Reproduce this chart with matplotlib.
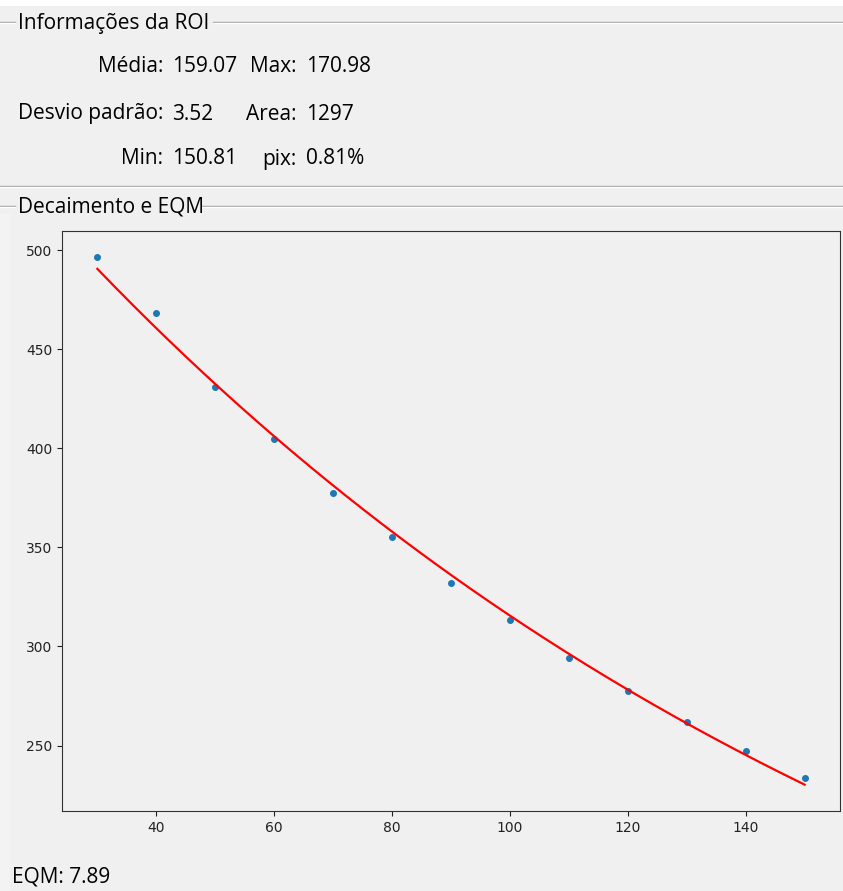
import numpy as np
import matplotlib
matplotlib.use("Agg")
import matplotlib.pyplot as plt
from matplotlib.lines import Line2D
from matplotlib.patches import Rectangle

# ROI statistics shown in the info panel
roi_labels = ["Média:", "Max:", "Desvio padrão:", "Area:", "Min:", "pix:"]
roi_values = ["159.07", "170.98", "3.52", "1297", "150.81", "0.81%"]

# decay samples (echo time vs. mean signal)
te = [30, 40, 50, 60, 70, 80, 90, 100, 110, 120, 130, 140, 150]
signal = [496.5, 468.4, 431.2, 404.6, 377.5, 355.4, 332.3, 313.3, 294.2,
          277.6, 262.0, 247.0, 233.4]
eqm = 7.89

W, H = 843, 891
BG = "#f0f0f0"
ui_font = ["Open Sans", "DejaVu Sans"]
UI_SIZE = 15

fig = plt.figure(figsize=(W / 100, H / 100), dpi=100)
fig.patch.set_facecolor(BG)


def fx(px):
    return px / W


def fy(py):
    return 1 - py / H


def hline(x0, x1, y, color="#a0a0a0"):
    fig.add_artist(Line2D([fx(x0), fx(x1)], [fy(y), fy(y)], color=color, lw=1))
    fig.add_artist(Line2D([fx(x0), fx(x1)], [fy(y + 1), fy(y + 1)], color="white", lw=1))


def groupbox(title, y, title_end):
    hline(0, 15, y)
    hline(title_end, W, y)
    fig.text(fx(18), fy(y + 1), title, fontsize=UI_SIZE, family=ui_font,
             va="center", ha="left", color="black")


# window strip above the panel and lighter margin beside the canvas
fig.add_artist(Rectangle((0, fy(6)), 1, 1 - fy(6), transform=fig.transFigure,
                         facecolor="white", edgecolor="none"))
fig.add_artist(Rectangle((0, 0), fx(10), fy(214), transform=fig.transFigure,
                         facecolor="#f3f3f3", edgecolor="none"))

groupbox("Informações da ROI", 22, 213)

# label / value rows
rows = [(67, 0, 1), (114, 2, 3), (159, 4, 5)]
for y, a, b in rows:
    fig.text(fx(163), fy(y), roi_labels[a], fontsize=UI_SIZE, family=ui_font,
             ha="right", va="center")
    fig.text(fx(172), fy(y), roi_values[a], fontsize=UI_SIZE, family=ui_font,
             ha="left", va="center")
    fig.text(fx(296), fy(y), roi_labels[b], fontsize=UI_SIZE, family=ui_font,
             ha="right", va="center")
    fig.text(fx(306), fy(y), roi_values[b], fontsize=UI_SIZE, family=ui_font,
             ha="left", va="center")

hline(0, W, 186)
groupbox("Decaimento e EQM", 206, 202)

# exponential fit on log of the signal
slope, intercept = np.polyfit(te, np.log(signal), 1)
te_fit = np.linspace(min(te), max(te), 200)
fit = np.exp(intercept + slope * te_fit)

ax = fig.add_axes([fx(62), fy(811), fx(840) - fx(62), fy(231) - fy(811)])
ax.set_facecolor(BG)
ax.plot(te, signal, "o", markersize=4, color="#1f77b4")
ax.plot(te_fit, fit, color="red", lw=1.6)
ax.set_xticks([40, 60, 80, 100, 120, 140])
ax.set_yticks([250, 300, 350, 400, 450, 500])
ax.tick_params(labelsize=10, colors="#222222")
for s in ax.spines.values():
    s.set_color("#333333")

fig.text(fx(12), fy(877), f"EQM: {eqm}", fontsize=UI_SIZE, family=ui_font,
         ha="left", va="center")

fig.savefig("out.png", dpi=100, facecolor=BG)
